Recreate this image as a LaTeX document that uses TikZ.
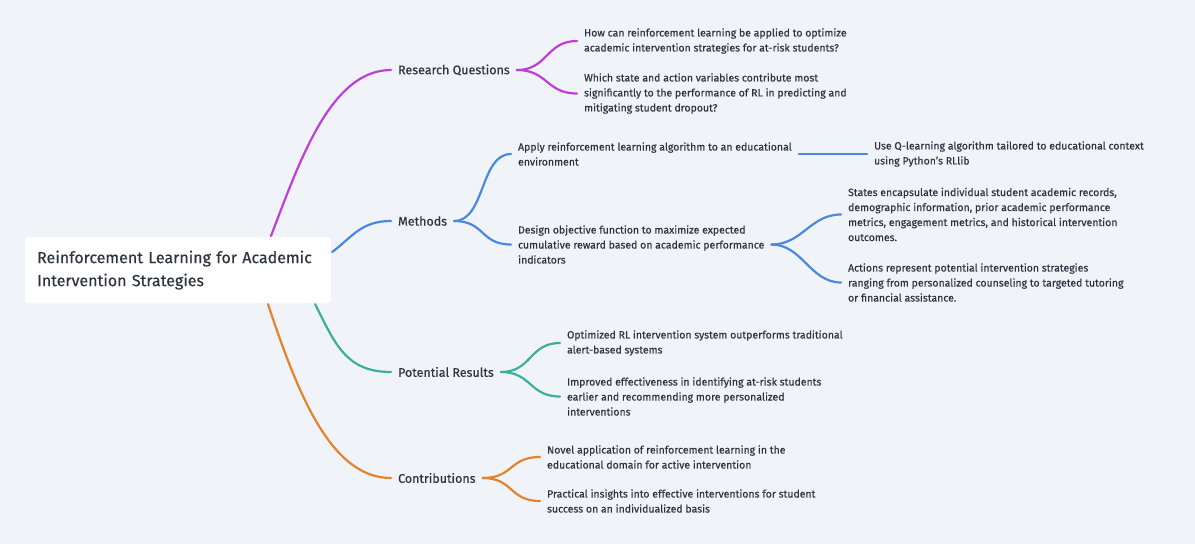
\documentclass[tikz,border=0pt]{standalone}
\usepackage{fontspec}
\setmainfont{Fira Sans}[FakeBold=0.35]
\definecolor{bg}{HTML}{F0F3F7}
\definecolor{ink}{HTML}{2D3340}
\definecolor{rqcol}{HTML}{C03ED8}
\definecolor{mcol}{HTML}{4A89E0}
\definecolor{prcol}{HTML}{3CB09C}
\definecolor{ccol}{HTML}{E4832E}

\begin{document}
\begin{tikzpicture}[x=1pt, y=-1pt, line width=2.2pt, line cap=round, text=ink,
    main/.style = {fill=white, rounded corners=4pt, align=left, text width=282pt, inner xsep=12pt, minimum height=66pt, font=\fontsize{16}{23}\selectfont},
    branch/.style = {anchor=west, inner xsep=6pt, font=\fontsize{12.5}{15}\selectfont},
    leaf/.style = {anchor=west, align=left, inner xsep=6pt, font=\fontsize{10.5}{15}\selectfont},
    link/.style = {to path={.. controls +(31,0) and +(-31,0) .. (\tikztotarget)}}]
    \fill[bg] (0,0) rectangle (1195,544);
    \useasboundingbox (0,0) rectangle (1195,544);

    \node[main, anchor=north west] (root) at (24,236) {Reinforcement Learning for Academic\\Intervention Strategies};

    \node[branch] (rq) at (391,70) {Research Questions};
    \node[branch] (m) at (391,221) {Methods};
    \node[branch] (pr) at (391,372) {Potential Results};
    \node[branch] (c) at (391,478) {Contributions};

    \node[leaf] (rq1) at (577,41) {How can reinforcement learning be applied to optimize\\academic intervention strategies for at-risk students?};
    \node[leaf] (rq2) at (577,93.5) {Which state and action variables contribute most\\significantly to the performance of RL in predicting and\\mitigating student dropout?};
    \node[leaf] (m1) at (511,154) {Apply reinforcement learning algorithm to an educational\\environment};
    \node[leaf] (m11) at (867,154) {Use Q-learning algorithm tailored to educational context\\using Python's RLlib};
    \node[leaf] (m2) at (511,244.5) {Design objective function to maximize expected\\cumulative reward based on academic performance\\indicators};
    \node[leaf] (m21) at (841,214.5) {States encapsulate individual student academic records,\\demographic information, prior academic performance\\metrics, engagement metrics, and historical intervention\\outcomes.};
    \node[leaf] (m22) at (841,282.5) {Actions represent potential intervention strategies\\ranging from personalized counseling to targeted tutoring\\or financial assistance.};
    \node[leaf] (pr1) at (560,343) {Optimized RL intervention system outperforms traditional\\alert-based systems};
    \node[leaf] (pr2) at (560,396.5) {Improved effectiveness in identifying at-risk students\\earlier and recommending more personalized\\interventions};
    \node[leaf] (c1) at (540,457) {Novel application of reinforcement learning in the\\educational domain for active intervention};
    \node[leaf] (c2) at (540,501) {Practical insights into effective interventions for student\\success on an individualized basis};

    \draw[rqcol] ([xshift=247pt]root.north west) .. controls +(29,-76) and +(-60,0) .. (rq.west);
    \draw[mcol] ([yshift=-16pt]root.north east) .. controls +(20,-15) and +(-30,0) .. (m.west);
    \draw[prcol] ([xshift=-17pt]root.south east) .. controls +(20,40) and +(-45,0) .. (pr.west);
    \draw[ccol] ([xshift=244pt]root.south west) .. controls +(30,90) and +(-60,0) .. (c.west);

    \draw[rqcol] (rq.east) to[link] (rq1.west);
    \draw[rqcol] (rq.east) to[link] (rq2.west);
    \draw[mcol] (m.east) to[link] (m1.west);
    \draw[mcol] (m.east) to[link] (m2.west);
    \draw[mcol] (m1.east) -- (m11.west);
    \draw[mcol] (m2.east) to[link] (m21.west);
    \draw[mcol] (m2.east) to[link] (m22.west);
    \draw[prcol] (pr.east) to[link] (pr1.west);
    \draw[prcol] (pr.east) to[link] (pr2.west);
    \draw[ccol] (c.east) to[link] (c1.west);
    \draw[ccol] (c.east) to[link] (c2.west);
\end{tikzpicture}
\end{document}
